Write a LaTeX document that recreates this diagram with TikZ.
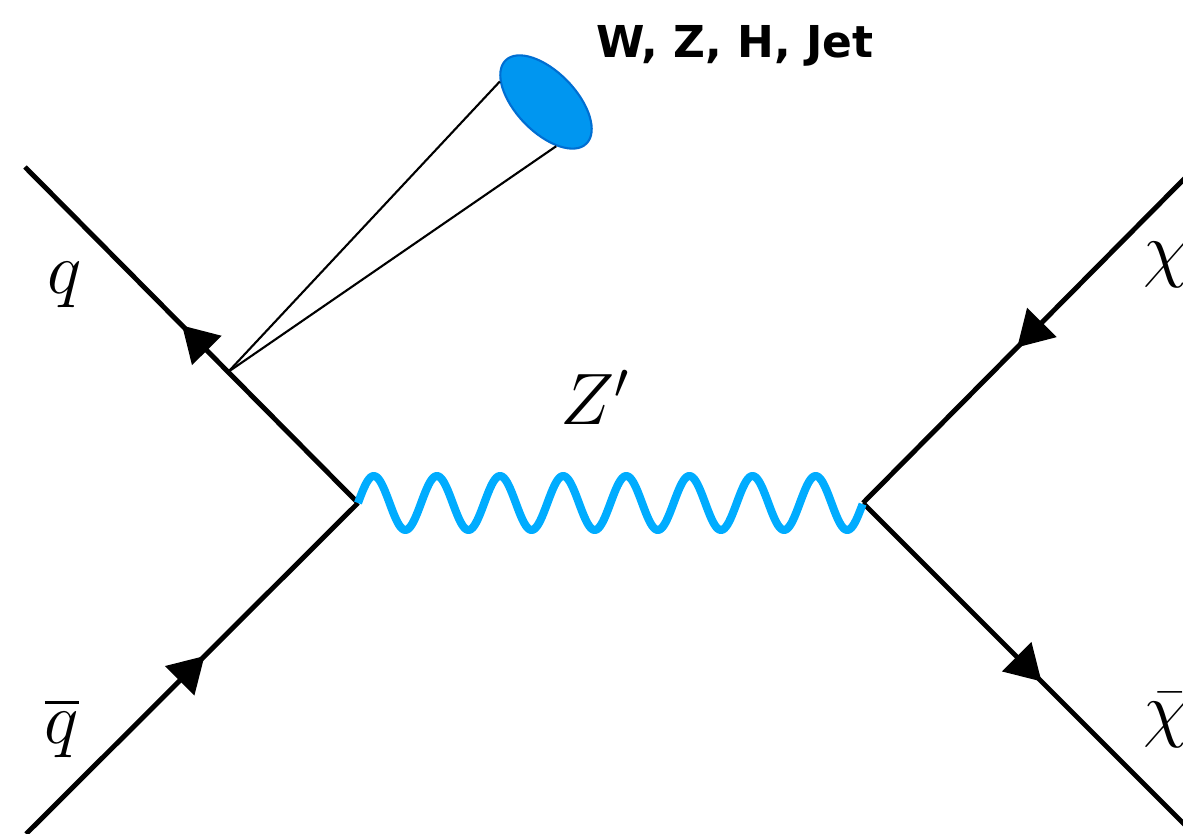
\documentclass[tikz,border=0pt]{standalone}
\usepackage{fontspec}
\usepackage{amsmath}
\usetikzlibrary{arrows.meta,calc,decorations.markings,shapes.geometric}
\newfontfamily\jetfont{DejaVu Sans}

\begin{document}
\begin{tikzpicture}[
  fermion/.style={line width=1.4pt, postaction={decorate,
    decoration={markings, mark=at position #1 with {\arrow{Triangle[length=10pt,width=11.5pt]}}}}},
  boson/.style={zwave, line width=2.3pt, line join=round,
    to path={let \p1=(\tikztostart), \p2=(\tikztotarget) in
      plot[variable=\t, domain=0:1, samples=321, smooth]
        ({\x1+(\x2-\x1)*\t}, {\y1+0.27cm*sin(\t*2880)})}},
  jetcone/.style={ellipse, fill=jetfill, draw=jetedge, line width=0.6pt,
    minimum width=1.16cm, minimum height=0.6cm, inner sep=0pt},
  lbl/.style={font=\huge, inner sep=0pt}]
  \definecolor{zwave}{RGB}{0,172,255}
  \definecolor{jetfill}{RGB}{0,150,240}
  \definecolor{jetedge}{RGB}{0,110,210}
  \useasboundingbox (0,0) rectangle (11.83,8.34);
  % vertices and outer ends
  \coordinate (vL) at (3.58,3.31);
  \coordinate (vR) at (8.63,3.31);
  \coordinate (qEnd) at (0.25,6.67);
  \coordinate (qbEnd) at (0.26,0.00);
  \coordinate (chiEnd) at (11.90,6.61);
  \coordinate (chibEnd) at (11.95,-0.01);
  \path (vL) -- (qEnd) coordinate[pos=0.39] (cv);
  % fermion lines
  \draw[fermion=0.53] (vL) -- (qEnd);
  \draw[fermion=0.54] (qbEnd) -- (vL);
  \draw[fermion=0.53] (chiEnd) -- (vR);
  \draw[fermion=0.54] (vR) -- (chibEnd);
  % radiated jet
  \node[jetcone, rotate=-46] (jet) at (5.46,7.32) {};
  \draw[line width=0.6pt] (cv) -- (jet.202);
  \draw[line width=0.6pt] (cv) -- (jet.329);
  % mediator
  \draw[boson] (vL) to (vR);
  % labels
  \node[lbl, anchor=base] (q) at (0.645,5.40) {$q$};
  \node[lbl, anchor=base] (qb) at (0.62,0.90) {$\overline{q}$};
  \node[lbl, anchor=base west] (zp) at (5.60,4.09) {$Z'$};
  \node[lbl, anchor=base west, fill=white, inner sep=2pt] (chi) at (11.36,5.60) {$\chi$};
  \node[lbl, anchor=base west, fill=white, inner sep=2pt] (chib) at (11.36,1.00) {$\bar{\chi}$};
  \node[font={\jetfont\bfseries\fontsize{12.5}{15}\selectfont}, anchor=base] (jl) at (7.35,7.76) {W, Z, H, Jet};
\end{tikzpicture}
\end{document}
